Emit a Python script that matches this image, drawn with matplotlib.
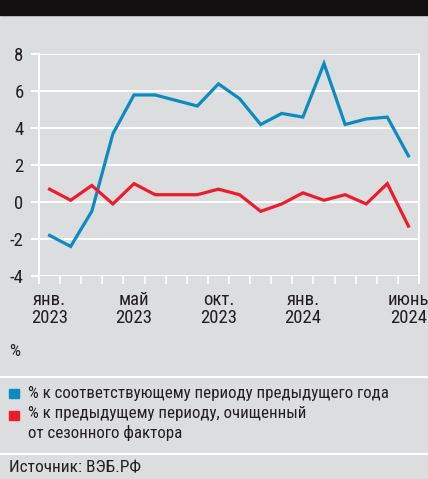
import matplotlib
matplotlib.use('Agg')
import matplotlib.pyplot as plt
from matplotlib import font_manager

# data
months = list(range(18))  # янв. 2023 ... июнь 2024
yoy = [-1.8, -2.4, -0.5, 3.7, 5.8, 5.8, 5.5, 5.2, 6.4, 5.6, 4.2, 4.8, 4.6, 7.5, 4.2, 4.5, 4.6, 2.5]
mom_sa = [0.7, 0.1, 0.9, -0.1, 1.0, 0.4, 0.4, 0.4, 0.7, 0.4, -0.5, -0.1, 0.5, 0.1, 0.4, -0.1, 1.0, -1.3]
tick_pos = [0, 4, 8, 12, 17]
tick_labels = ['янв.\n2023', 'май\n2023', 'окт.\n2023', 'янв.\n2024', 'июнь\n2024']
y_ticks = [-4, -2, 0, 2, 4, 6, 8]
legend_labels = ['% к соответствующему периоду предыдущего года',
                 '% к предыдущему периоду, очищенный\nот сезонного фактора']

BLUE = '#0a8cc0'
RED = '#ec1c2c'
BG = '#dcdddf'

# pick a narrow font if available
names = {f.name for f in font_manager.fontManager.ttflist}
font = 'DejaVu Sans'
for cand in ['Liberation Sans Narrow', 'Roboto Condensed', 'Open Sans Condensed',
             'DejaVu Sans Condensed', 'Liberation Sans']:
    if cand in names:
        font = cand
        break
plt.rcParams['font.family'] = [font, 'DejaVu Sans']
TXT = '#231f20'

fig = plt.figure(figsize=(4.28, 4.79), dpi=100, facecolor=BG)

# black band on top
fig.patches.append(plt.Rectangle((0, 1 - 14.5 / 479), 1, 14.5 / 479,
                                 transform=fig.transFigure, color='#130f10'))

ax = fig.add_axes([39 / 428, 1 - 276 / 479, 380 / 428, (276 - 54.3) / 479])
ax.set_facecolor(BG)
ax.plot(months, yoy, color=BLUE, lw=2.3, solid_joinstyle='miter', zorder=3)
ax.plot(months, mom_sa, color=RED, lw=2.3, solid_joinstyle='miter', zorder=3)

ax.set_xlim(-0.5, 17.5)
ax.set_ylim(-4, 8)
ax.set_yticks(y_ticks)
ax.set_yticklabels([str(v) for v in y_ticks], fontsize=13.5, color=TXT)
ax.yaxis.grid(True, color='white', lw=1.4)
ax.tick_params(axis='y', length=6, width=1.4, color='white', pad=5)

ax.set_xticks([m - 0.5 for m in months] + [17.5], minor=True)
ax.set_xticks(tick_pos)
ax.set_xticklabels(tick_labels, fontsize=13.5, color=TXT, linespacing=1.0)
ax.tick_params(axis='x', which='major', length=0, pad=11)
ax.tick_params(axis='x', which='minor', length=5.5, width=1.2, color='white')
for lbl in ax.get_xticklabels():
    lbl.set_multialignment('center')

for s in ['top', 'bottom']:
    ax.spines[s].set_visible(False)
for s in ['left', 'right']:
    ax.spines[s].set_color('white')
    ax.spines[s].set_linewidth(1.4)
ax.spines['left'].set_bounds(-4.4, 8)
ax.spines['right'].set_bounds(-4.4, 8)
ax.set_axisbelow(True)

def fy(px):
    return 1 - px / 479

fig.text(9 / 428, fy(352), '%', fontsize=12.5, color=TXT, va='center')

# separators
for yy in [376.7, 453.7]:
    fig.add_artist(plt.Line2D([0, 1], [fy(yy), fy(yy)], color='white', lw=1.5))

# legend
fig.patches.append(plt.Rectangle((9 / 428, fy(398)), 10 / 428, 9.5 / 479,
                                 transform=fig.transFigure, color=BLUE))
fig.patches.append(plt.Rectangle((9 / 428, fy(420)), 10 / 428, 9.5 / 479,
                                 transform=fig.transFigure, color=RED))
fig.text(28 / 428, fy(393.5), legend_labels[0], fontsize=12.2, color=TXT, va='center')
fig.text(28 / 428, fy(406), legend_labels[1], fontsize=12.2, color=TXT, va='top',
         linespacing=1.3)

fig.text(9 / 428, fy(468), 'Источник: ВЭБ.РФ', fontsize=12.5, color=TXT, va='center')

fig.savefig('out.png', dpi=100, facecolor=BG)
